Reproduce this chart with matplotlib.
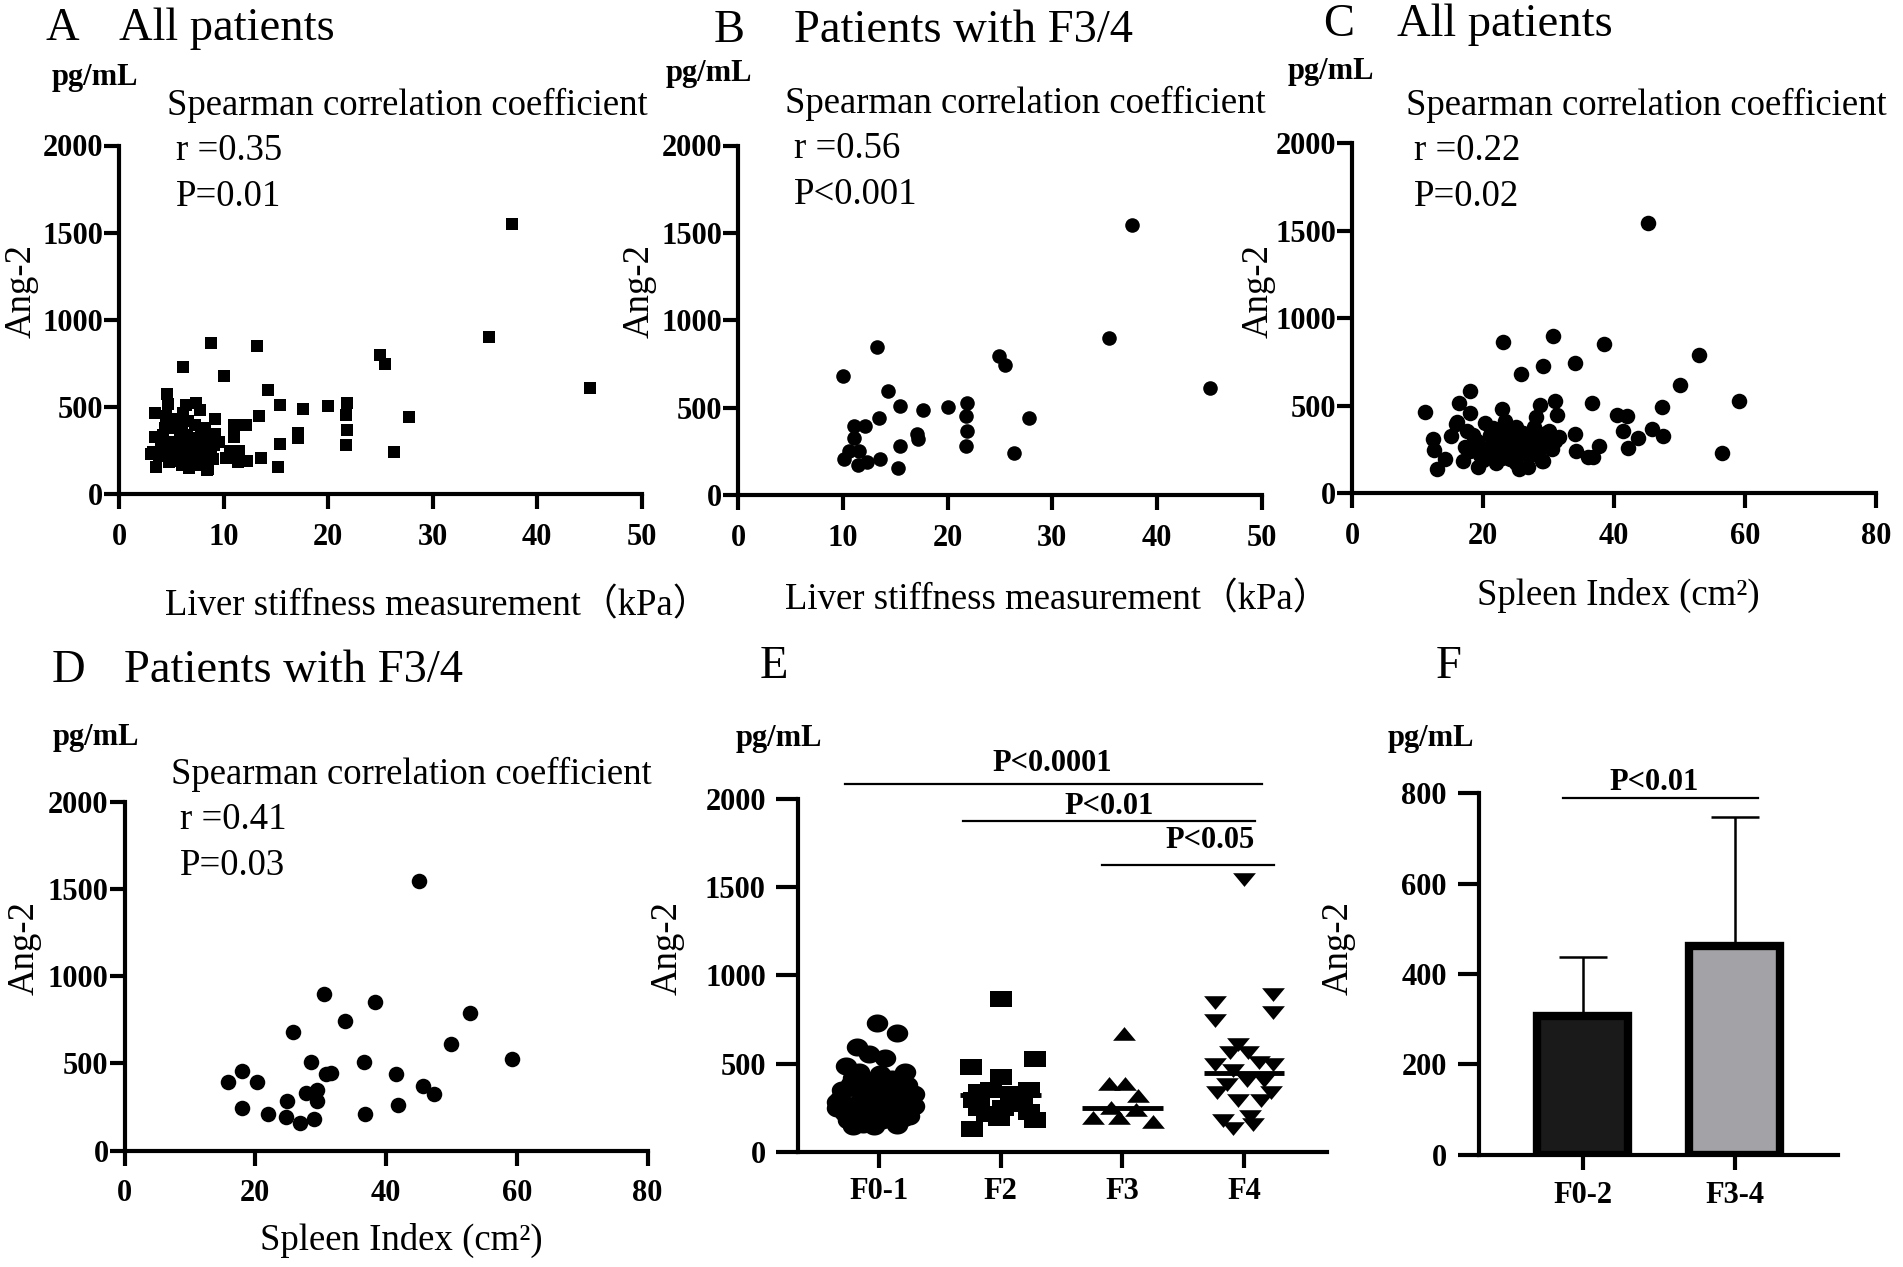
import numpy as np
import matplotlib
matplotlib.use("Agg")
import matplotlib.pyplot as plt

plt.rcParams['font.family'] = ['Liberation Serif', 'Noto Sans CJK SC', 'DejaVu Sans']

# ---------------- data ----------------
# A: all patients, liver stiffness (kPa) vs Ang-2 (pg/mL)
lsm_all = [37.6, 35.4, 45.0, 24.9, 25.4, 27.7, 26.3, 21.8, 21.7, 21.8, 21.7, 20.0, 17.6, 17.1,
           17.1, 15.4, 15.4, 15.2, 14.2, 13.4, 13.2, 13.6, 12.1, 12.2, 11.0, 11.0, 10.6, 11.5,
           10.2, 11.4, 10.0, 8.75, 6.1, 9.2, 9.2, 8.4,
           4.6, 4.7, 3.4, 4.5, 6.4, 7.3, 7.7, 6.1, 9.2, 3.4, 3.2, 3.5, 4.8, 6.7, 8.5, 9.1,
           5.0, 5.5, 6.0, 6.5, 7.0, 7.5, 8.0, 8.5, 5.0, 5.5, 6.0, 6.5, 7.0, 7.5, 8.0, 4.0,
           4.5, 5.0, 5.5, 6.0, 6.5, 7.0, 7.5, 8.0, 4.2, 4.8, 5.8, 6.8, 7.8, 8.8, 9.5, 3.8,
           4.4, 5.6, 6.6, 7.2, 8.2, 3.0, 5.2, 6.2, 7.6, 9.0, 4.0, 8.4]
ang2_lsm_all = [1549, 900, 612, 798, 748, 442, 243, 526, 454, 367, 283, 506, 488, 351,
                322, 510, 288, 159, 596, 447, 850, 211, 397, 193, 397, 329, 249, 249,
                211, 186, 680, 866, 730, 431, 347, 141,
                575, 518, 464, 449, 512, 525, 483, 464, 430, 330, 244, 158, 187, 149, 143, 283,
                400, 380, 360, 340, 320, 300, 330, 310, 300, 280, 260, 240, 220, 250, 270, 260,
                230, 210, 190, 170, 200, 180, 210, 230, 340, 300, 320, 290, 360, 250, 300, 220,
                380, 430, 420, 400, 380, 230, 250, 210, 170, 200, 300, 200]

# B: patients with F3/4, liver stiffness vs Ang-2
lsm_f34 = [10.06, 13.29, 14.32, 15.44, 17.63, 20.08, 21.85, 21.73, 21.85, 21.73, 24.88, 25.46,
           27.77, 26.37, 35.39, 37.58, 45.03, 13.45, 12.17, 11.09, 11.09, 10.55, 11.51, 10.14,
           11.42, 12.33, 13.58, 15.23, 15.44, 17.09, 17.22]
ang2_lsm_f34 = [679, 848, 593, 509, 484, 502, 525, 450, 367, 283, 796, 744,
                439, 238, 898, 1548, 611, 441, 396, 396, 328, 253, 253, 208,
                174, 192, 208, 156, 283, 351, 321]

# C: all patients, spleen index (cm2) vs Ang-2
si_all = [11.1, 13.0, 12.3, 12.5, 14.1, 15.0, 16.3, 16.0, 18.0, 18.0, 23.0, 22.9, 25.8, 29.1,
          30.6, 30.9, 31.2, 28.7, 28.0, 34.0, 38.4, 36.6, 34.0, 34.1, 36.0, 36.8, 37.6, 40.4,
          41.9, 41.3, 42.1, 43.6, 45.1, 45.7, 47.5, 47.3, 50.0, 52.9, 59.0, 56.5,
          17.5, 17.2, 16.9, 19.2, 20.2, 21.9, 23.3, 25.4, 26.9, 29.1, 30.0, 31.0, 26.0, 27.5,
          29.1, 24.1, 18.0, 22.0, 24.9, 24.7, 27.7, 29.5, 29.4, 29.0, 15.9,
          19.0, 20.5, 21.0, 22.0, 22.5, 23.0, 23.5, 24.0, 25.0, 25.5, 26.5, 27.0, 28.0, 28.5,
          19.5, 21.5, 24.5, 26.0, 20.0, 22.8, 27.8, 30.5, 31.5, 18.5, 25.0]
ang2_si_all = [461, 136, 310, 249, 197, 325, 513, 405, 581, 457, 863, 479, 683, 728,
               897, 529, 445, 506, 434, 744, 852, 513, 337, 242, 208, 208, 269, 445,
               438, 355, 258, 316, 1541, 366, 325, 490, 615, 791, 529, 231,
               355, 264, 185, 151, 400, 174, 411, 140, 151, 185, 355, 298, 343, 332,
               264, 197, 243, 208, 286, 195, 332, 346, 286, 183, 396,
               300, 260, 330, 290, 240, 350, 310, 260, 380, 230, 270, 210, 300, 240,
               220, 370, 330, 300, 190, 200, 380, 250, 320, 330, 170]

# D: patients with F3/4, spleen index vs Ang-2
si_f34 = [15.9, 18.0, 20.2, 18.0, 22.0, 24.9, 24.7, 26.9, 25.7, 27.7, 28.5, 29.5, 29.4, 29.0,
          30.5, 30.8, 31.6, 33.8, 36.6, 36.8, 38.3, 41.6, 41.9, 45.0, 45.7, 47.4, 50.0, 52.9, 59.2]
ang2_si_f34 = [396, 454, 396, 243, 208, 286, 195, 160, 683, 332, 506, 346, 286, 183,
               900, 438, 447, 744, 511, 208, 850, 442, 259, 1546, 369, 323, 614, 792, 527]

# E: Ang-2 by fibrosis stage (offset = horizontal spread inside a column)
stages = ['F0-1', 'F2', 'F3', 'F4']
f01_offset = [-0.01, 0.15, -0.18, -0.27, -0.08, 0.05, 0.22, -0.34, -0.21, -0.04, 0.11, 0.2,
              0.25, -0.23, -0.13, -0.02, 0.08, -0.16, 0.15, -0.32, -0.28, -0.09, 0.03, 0.18,
              0.29, -0.3, -0.21, -0.08, 0.01, 0.11, 0.23, -0.04, 0.06, -0.18, -0.08, -0.25,
              -0.13, 0.04, 0.15, 0.25, -0.02, -0.14, 0.11, -0.34, 0.29]
f01_values = [729, 675, 596, 487, 555, 532, 453, 249, 147, 147, 193, 193,
              294, 385, 317, 249, 362, 453, 317, 300, 220, 200, 180, 240,
              260, 350, 420, 400, 440, 410, 380, 300, 280, 270, 340, 180,
              160, 230, 150, 200, 370, 230, 330, 280, 330]
f2_offset = [0.0, -0.24, 0.28, 0.0, 0.23, -0.18, -0.08, 0.09, -0.22, 0.18, 0.02, -0.11,
             0.28, -0.23, -0.01, 0.23, -0.18, 0.09]
f2_values = [865, 482, 525, 424, 351, 340, 351, 328, 294, 272, 249, 215,
             181, 131, 193, 226, 249, 272]
f3_offset = [0.01, -0.11, 0.02, 0.13, -0.24, -0.03, 0.11, 0.25, -0.09]
f3_values = [668, 385, 385, 317, 193, 193, 238, 170, 249]
f4_offset = [-0.24, 0.24, -0.24, 0.24, 0.0, -0.05, -0.12, 0.03, -0.24, -0.09, 0.12, 0.24,
             -0.14, 0.02, 0.16, -0.22, -0.05, 0.14, -0.17, 0.05, -0.09, 0.22, 0.07]
f4_values = [849, 895, 747, 793, 1545, 611, 566, 566, 498, 464, 510, 498,
             385, 408, 408, 340, 294, 294, 181, 204, 136, 340, 159]
stage_means = [330, 320, 249, 448]

# F: mean +/- SD
groups_f = ['F0-2', 'F3-4']
means_f = [307, 462]
sd_f = [131, 285]

# ---------------- layout helpers ----------------
W, H = 1903, 1267
fig = plt.figure(figsize=(W / 100, H / 100), dpi=100)
TICK = 22
TITLE = 33.5
BODY = 26.5


def axes_px(left, top, right, bottom):
    return fig.add_axes([left / W, 1 - bottom / H, (right - left) / W, (bottom - top) / H])


def text_px(x, y, s, size, **kw):
    fig.text(x / W, 1 - y / H, s, fontsize=size, va='baseline', **kw)


def style(ax, xlim, ylim, xticks, yticks, xlabels=None, ylen=10.5, xlen=10.5, xpad=10, ypad=1):
    ax.set_xlim(xlim)
    ax.set_ylim(ylim)
    for s in ['top', 'right']:
        ax.spines[s].set_visible(False)
    for s in ['left', 'bottom']:
        ax.spines[s].set_linewidth(3)
        ax.spines[s].set_capstyle('projecting')
    ax.set_xticks(xticks)
    ax.set_xticklabels(xlabels if xlabels else [str(t) for t in xticks],
                       fontsize=TICK, fontweight='bold')
    ax.set_yticks(yticks)
    ax.set_yticklabels([str(t) for t in yticks], fontsize=TICK, fontweight='bold')
    ax.tick_params(axis='y', width=3, length=ylen, pad=ypad)
    ax.tick_params(axis='x', width=3, length=xlen, pad=xpad)


y_ticks = [0, 500, 1000, 1500, 2000]

# ---------------- A ----------------
ax = axes_px(119.3, 145.5, 641.8, 494.3)
ax.scatter(lsm_all, ang2_lsm_all, marker='s', s=82, c='black', linewidths=0, clip_on=False)
style(ax, (0, 50), (0, 2000), [0, 10, 20, 30, 40, 50], y_ticks)

# ---------------- B ----------------
ax = axes_px(738.0, 145.5, 1261.8, 495.1)
ax.scatter(lsm_f34, ang2_lsm_f34, marker='o', s=110, c='black', linewidths=0, clip_on=False)
style(ax, (0, 50), (0, 2000), [0, 10, 20, 30, 40, 50], y_ticks)

# ---------------- C ----------------
ax = axes_px(1352.3, 143.1, 1876.3, 493.1)
ax.scatter(si_all, ang2_si_all, marker='o', s=125, c='black', linewidths=0, clip_on=False)
style(ax, (0, 80), (0, 2000), [0, 20, 40, 60, 80], y_ticks)

# ---------------- D ----------------
ax = axes_px(124.5, 802.0, 647.5, 1150.6)
ax.scatter(si_f34, ang2_si_f34, marker='o', s=125, c='black', linewidths=0, clip_on=False)
style(ax, (0, 80), (0, 2000), [0, 20, 40, 60, 80], y_ticks)

# ---------------- E ----------------
t = np.linspace(0, 2 * np.pi, 40)
ellipse = list(zip(np.cos(t), 0.84 * np.sin(t)))
rect = [(-1, -0.7), (1, -0.7), (1, 0.7), (-1, 0.7), (-1, -0.7)]
tri_up = [(-1, -0.55), (1, -0.55), (0, 0.65), (-1, -0.55)]
tri_dn = [(-1, 0.55), (1, 0.55), (0, -0.65), (-1, 0.55)]

ax = axes_px(797.8, 798.7, 1327, 1151.8)
e_groups = [(f01_offset, f01_values, ellipse, 240),
            (f2_offset, f2_values, rect, 250),
            (f3_offset, f3_values, tri_up, 270),
            (f4_offset, f4_values, tri_dn, 270)]
for i, (off, vals, mk, sz) in enumerate(e_groups):
    ax.scatter(np.array(off) + i, vals, marker=mk, s=sz, c='black', linewidths=0, clip_on=False)
for i, m in enumerate(stage_means):
    ax.hlines(m, i - 0.33, i + 0.33, colors='black', linewidth=3.5)
for lo, hi, yv, ytxt, xtxt, lab in [(-0.277, 3.149, 2084, 2156, 1.428, 'P<0.0001'),
                                    (0.691, 3.087, 1875, 1914, 1.894, 'P<0.01'),
                                    (1.832, 3.249, 1626, 1721, 2.719, 'P<0.05')]:
    ax.plot([lo, hi], [yv, yv], color='black', linewidth=1.6, clip_on=False)
    ax.text(xtxt, ytxt, lab, ha='center', va='baseline', fontsize=TICK, fontweight='bold')
style(ax, (-0.664, 3.68), (0, 2000), [0, 1, 2, 3], y_ticks, xlabels=stages,
      ylen=16, xlen=11.5, xpad=7, ypad=7)

# ---------------- F ----------------
ax = axes_px(1478.8, 793.2, 1838.4, 1154.6)
xpos = np.arange(len(groups_f))
ax.errorbar(xpos, means_f, yerr=[[0, 0], sd_f], fmt='none', ecolor='black',
            elinewidth=1.8, capsize=17, capthick=1.8, zorder=1)
ax.bar(xpos, means_f, width=0.6, color=['#1a1a1a', '#a3a3a7'], edgecolor='black',
       linewidth=6, zorder=2)
ax.plot([-0.13, 1.157], [789, 789], color='black', linewidth=1.6, clip_on=False)
ax.text(0.468, 807, 'P<0.01', ha='center', va='baseline', fontsize=TICK, fontweight='bold')
style(ax, (-0.684, 1.683), (0, 800), [0, 1], [0, 200, 400, 600, 800], xlabels=groups_f,
      ylen=15, xlen=11, xpad=8, ypad=8)

# ---------------- panel texts ----------------
for x, y, s in [(45.5, 39.5, 'A'), (119.3, 39.5, 'All patients'),
                (713.2, 41.5, 'B'), (793.5, 41.5, 'Patients with F3/4'),
                (1323.6, 35.6, 'C'), (1397.4, 35.6, 'All patients'),
                (51.2, 682, 'D'), (123.6, 682, 'Patients with F3/4'),
                (760, 678, 'E'), (1435.4, 678, 'F')]:
    text_px(x, y, s, TITLE)

for x, y in [(51.2, 85), (665.5, 81), (1287.9, 79), (52.9, 744.8), (736, 746), (1387.7, 746)]:
    text_px(x, y, 'pg/mL', TICK, fontweight='bold')

for (x0, y0), r_txt, p_txt in [((167, 114.7), 'r =0.35', 'P=0.01'),
                               ((784.8, 112.7), 'r =0.56', 'P<0.001'),
                               ((1405.6, 114.7), 'r =0.22', 'P=0.02'),
                               ((171.3, 784), 'r =0.41', 'P=0.03')]:
    text_px(x0, y0, 'Spearman correlation coefficient', BODY)
    text_px(x0 + 8.7, y0 + 45.3, r_txt, BODY)
    text_px(x0 + 8.7, y0 + 90.9, p_txt, BODY)

for x, y in [(21.7, 290.6), (639.5, 290.6), (1258, 291), (23.9, 948), (667.4, 948), (1338.5, 948)]:
    fig.text(x / W, 1 - y / H, 'Ang-2', fontsize=BODY, rotation=90, ha='center', va='center')

text_px(164.8, 615, 'Liver stiffness measurement（kPa）', BODY)
text_px(784.8, 609, 'Liver stiffness measurement（kPa）', BODY)
text_px(1477.3, 605, 'Spleen Index (cm²)', BODY)
text_px(260.2, 1249.8, 'Spleen Index (cm²)', BODY)

fig.savefig('out.png', dpi=100)
